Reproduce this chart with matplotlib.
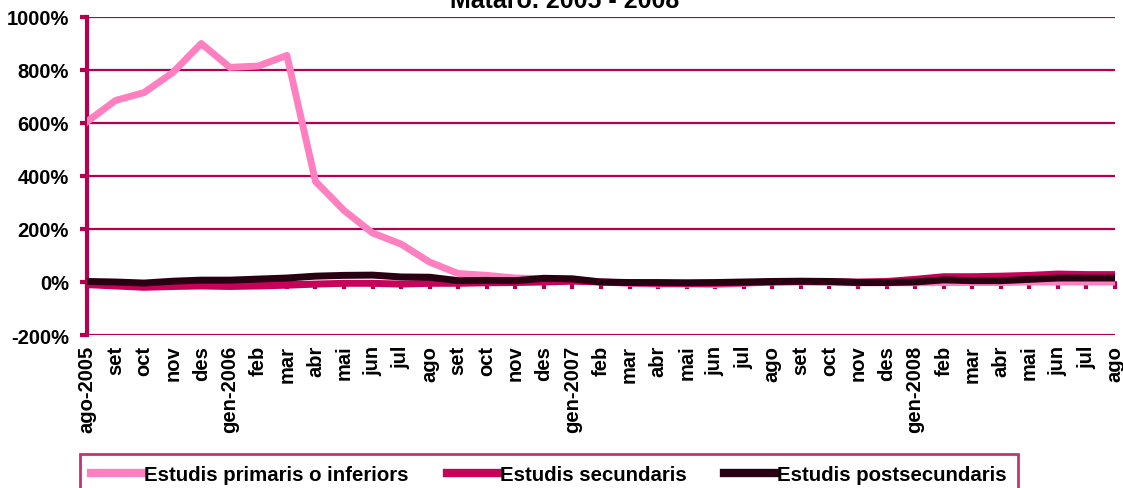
import matplotlib
matplotlib.use("Agg")
import matplotlib.pyplot as plt

plt.rcParams['font.family'] = ['Liberation Sans', 'DejaVu Sans']
plt.rcParams['font.weight'] = 'bold'

# Data
months = ['ago-2005', 'set', 'oct', 'nov', 'des', 'gen-2006', 'feb', 'mar', 'abr', 'mai',
          'jun', 'jul', 'ago', 'set', 'oct', 'nov', 'des', 'gen-2007', 'feb', 'mar',
          'abr', 'mai', 'jun', 'jul', 'ago', 'set', 'oct', 'nov', 'des', 'gen-2008',
          'feb', 'mar', 'abr', 'mai', 'jun', 'jul', 'ago']
primaris = [605, 685, 715, 790, 900, 810, 815, 855, 380, 270,
            185, 143, 75, 32, 25, 15, 12, 8, 0, -5,
            -8, -8, -10, -5, 0, 0, -2, -3, -3, -3,
            -2, -2, -2, 0, 0, 0, 0]
secundaris = [-10, -15, -20, -17, -15, -17, -15, -12, -8, -5,
              -5, -8, -5, -5, -3, -2, 0, 3, 0, -3,
              -5, -5, -5, -3, 0, 2, 2, 0, 2, 10,
              20, 20, 22, 25, 30, 28, 28]
postsecundaris = [2, 0, -4, 3, 7, 7, 11, 15, 22, 25,
                  26, 19, 18, 5, 6, 5, 14, 12, 0, -2,
                  -2, -3, -2, 0, 2, 3, 2, -2, -2, 0,
                  8, 5, 5, 10, 15, 15, 15]
labels = ['Estudis primaris o inferiors', 'Estudis secundaris', 'Estudis postsecundaris']
yticks = [-200, 0, 200, 400, 600, 800, 1000]

c_pink = '#ff80c0'
c_crimson = '#c8005a'
c_dark = '#280012'
c_grid = '#b4004f'

W, H = 1123, 489
fig = plt.figure(figsize=(W / 100, H / 100), dpi=100)
ax = fig.add_axes([87 / W, 1 - 336 / H, (1115 - 87) / W, (336 - 18) / H])

x = list(range(len(months)))
ax.plot(x, primaris, color=c_pink, lw=5, label=labels[0], solid_joinstyle='round', zorder=3)
ax.plot(x, secundaris, color=c_crimson, lw=5, label=labels[1], solid_joinstyle='round', zorder=4)
ax.plot(x, postsecundaris, color=c_dark, lw=5, label=labels[2], solid_joinstyle='round', zorder=5)

ax.set_xlim(0, len(months) - 1)
ax.set_ylim(-200, 1000)
ax.set_yticks(yticks)
ax.set_yticklabels([f'{v}%' for v in yticks], fontsize=14.5, fontweight='bold')
ax.yaxis.grid(True, color=c_grid, lw=1.6)
ax.set_axisbelow(True)

ax.set_xticks(x)
ax.set_xticklabels(months, rotation=90, fontsize=14.5, fontweight='bold', va='top')
ax.tick_params(axis='x', length=0, pad=7)
ax.tick_params(axis='y', direction='out', length=5, width=3, color=c_grid, pad=8)

for s in ['top', 'right', 'bottom']:
    ax.spines[s].set_visible(False)
ax.spines['left'].set_color(c_grid)
ax.spines['left'].set_linewidth(3)

# zero line axis with its tick marks
zero_ax = ax.secondary_xaxis(200 / 1200)
zero_ax.set_xticks(x)
zero_ax.set_xticklabels([])
zero_ax.tick_params(direction='out', length=5, width=3, color=c_grid)
zero_ax.spines['bottom'].set_color(c_grid)
zero_ax.spines['bottom'].set_linewidth(2)

fig.text(565 / W, 1 - 8 / H, 'Mataró. 2005 - 2008', ha='center', va='baseline',
         fontsize=18, fontweight='bold')

leg = fig.legend(loc='upper left', bbox_to_anchor=(80 / W, 1 - 455 / H), ncol=3,
                 fontsize=14.7, frameon=True, fancybox=False, handlelength=2.5,
                 handletextpad=0.1, columnspacing=1.85, borderpad=0.55, borderaxespad=0)
leg.get_frame().set_edgecolor(c_grid)
leg.get_frame().set_linewidth(2)
for line in leg.get_lines():
    line.set_linewidth(6)

fig.savefig('out.png', dpi=100)
